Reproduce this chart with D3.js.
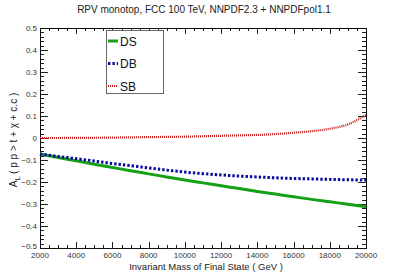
<!DOCTYPE html>
<html>
<head>
<meta charset="utf-8">
<script src="https://cdn.jsdelivr.net/npm/d3@7"></script>
<style>
  body { margin: 0; background: #fff; }
  text { font-family: "Liberation Sans", Arial, sans-serif; }
</style>
</head>
<body>
<div id="chart-area"></div>
<script>
// Data
var masses = [2000, 3000, 4000, 5000, 6000, 7000, 8000, 9000, 10000, 11000,
  12000, 13000, 14000, 15000, 16000, 17000, 18000, 19000, 20000];
var dsValues = [-0.073, -0.089, -0.104, -0.119, -0.134, -0.149, -0.163, -0.177, -0.191, -0.204,
  -0.217, -0.230, -0.243, -0.255, -0.267, -0.279, -0.290, -0.301, -0.312];
var dbValues = [-0.073, -0.084, -0.094, -0.105, -0.116, -0.126, -0.136, -0.146, -0.155, -0.162,
  -0.168, -0.173, -0.177, -0.181, -0.184, -0.186, -0.188, -0.190, -0.191];
var sbValues = [0.000, 0.000, 0.001, 0.001, 0.002, 0.003, 0.004, 0.005, 0.006, 0.008,
  0.010, 0.012, 0.014, 0.018, 0.024, 0.031, 0.042, 0.062, 0.105];
var seriesNames = ["DS", "DB", "SB"];
var xTicks = [2000, 4000, 6000, 8000, 10000, 12000, 14000, 16000, 18000, 20000];
var yTicks = [-0.5, -0.4, -0.3, -0.2, -0.1, 0, 0.1, 0.2, 0.3, 0.4, 0.5];

var W = 407, H = 276;
var margin = {top: 28, right: 41, bottom: 28, left: 40};
var width = W - margin.left - margin.right;
var height = H - margin.top - margin.bottom;

var svg = d3.select("#chart-area")
  .append("svg")
  .attr("width", W)
  .attr("height", H);

var g = svg.append("g")
  .attr("transform", "translate(" + margin.left + "," + margin.top + ")");

var x = d3.scaleLinear().domain([2000, 20000]).range([0, width]);
var y = d3.scaleLinear().domain([-0.5, 0.5]).range([height, 0]);

// minor ticks
var xMinor = d3.range(2000, 20001, 500);
var yMinor = d3.range(-50, 51, 2).map(function(v) { return v / 100; });

function tickG(cls) {
  return g.append("g").attr("class", cls).attr("stroke", "#222").attr("stroke-width", 1);
}

// bottom + top ticks
var tb = tickG("xticks");
xMinor.forEach(function(v) {
  var major = xTicks.indexOf(v) >= 0;
  var len = major ? 6 : 3;
  var px = Math.round(x(v)) + 0.5;
  tb.append("line").attr("x1", px).attr("x2", px).attr("y1", height).attr("y2", height - len);
  tb.append("line").attr("x1", px).attr("x2", px).attr("y1", 0).attr("y2", len);
});

// left + right ticks
var tl = tickG("yticks");
yMinor.forEach(function(v) {
  var major = Math.abs(Math.round(v * 10) - v * 10) < 1e-6;
  var len = major ? 8 : 4;
  var py = Math.round(y(v)) + 0.5;
  tl.append("line").attr("x1", 0).attr("x2", len).attr("y1", py).attr("y2", py);
  tl.append("line").attr("x1", width).attr("x2", width - len).attr("y1", py).attr("y2", py);
});

// frame
g.append("rect")
  .attr("x", 0.5).attr("y", 0.5)
  .attr("width", width).attr("height", height)
  .attr("fill", "none").attr("stroke", "#111").attr("stroke-width", 1);

// tick labels
g.selectAll(".xlab")
  .data(xTicks)
  .enter()
  .append("text")
  .attr("x", function(d) { return x(d); })
  .attr("y", height + 10)
  .attr("text-anchor", "middle")
  .attr("font-size", 8)
  .attr("fill", "#333")
  .text(function(d) { return d; });

g.selectAll(".ylab")
  .data(yTicks)
  .enter()
  .append("text")
  .attr("x", -3)
  .attr("y", function(d) { return y(d) + (d === -0.5 ? 1 : 3); })
  .attr("text-anchor", "end")
  .attr("font-size", 8)
  .attr("fill", "#333")
  .text(function(d) { return d === 0 ? "0" : d3.format(".1f")(d); });

// curves
var line = d3.line()
  .x(function(d) { return x(d[0]); })
  .y(function(d) { return y(d[1]); })
  .curve(d3.curveMonotoneX);

var styles = [
  {color: "#16a016", width: 3, dash: null},
  {color: "#0a0a9a", width: 3, dash: "2.4,2"},
  {color: "#c41a1a", width: 2.2, dash: "1,1"}
];
var allValues = [dsValues, dbValues, sbValues];

var curves = g.append("g");
[2, 0, 1].forEach(function(i) {
  curves.append("path")
    .datum(masses.map(function(m, k) { return [m, allValues[i][k]]; }))
    .attr("d", line)
    .attr("fill", "none")
    .attr("stroke", styles[i].color)
    .attr("stroke-width", styles[i].width)
    .attr("stroke-dasharray", styles[i].dash);
});

// legend
var legend = svg.append("g").attr("transform", "translate(106,30)");
legend.append("rect")
  .attr("x", 0.5).attr("y", 0.5)
  .attr("width", 57).attr("height", 63)
  .attr("fill", "#fff").attr("stroke", "#666").attr("stroke-width", 1);

seriesNames.forEach(function(name, i) {
  var ly = 11 + i * 22.5;
  legend.append("line")
    .attr("x1", 2).attr("x2", 12)
    .attr("y1", ly).attr("y2", ly)
    .attr("stroke", styles[i].color)
    .attr("stroke-width", styles[i].width)
    .attr("stroke-dasharray", styles[i].dash);
  legend.append("text")
    .attr("x", 14)
    .attr("y", ly + 4.5)
    .attr("font-size", 12)
    .attr("fill", "#111")
    .text(name);
});

// title
svg.append("text")
  .attr("x", 204)
  .attr("y", 13)
  .attr("text-anchor", "middle")
  .attr("font-size", 10)
  .attr("fill", "#222")
  .text("RPV monotop, FCC 100 TeV, NNPDF2.3 + NNPDFpol1.1");

// axis titles
svg.append("text")
  .attr("x", 206)
  .attr("y", 270)
  .attr("text-anchor", "middle")
  .attr("font-size", 9.5)
  .attr("fill", "#222")
  .text("Invariant Mass of Final State ( GeV )");

var yt = svg.append("text")
  .attr("transform", "translate(17,140) rotate(-90)")
  .attr("text-anchor", "middle")
  .attr("font-size", 10)
  .attr("fill", "#222");
yt.append("tspan").text("A");
yt.append("tspan").attr("font-size", 7).attr("dy", 2.5).text("L");
yt.append("tspan").attr("dy", -2.5).text(" ( p p > t + \u03C7 + c.c )");
</script>
</body>
</html>
